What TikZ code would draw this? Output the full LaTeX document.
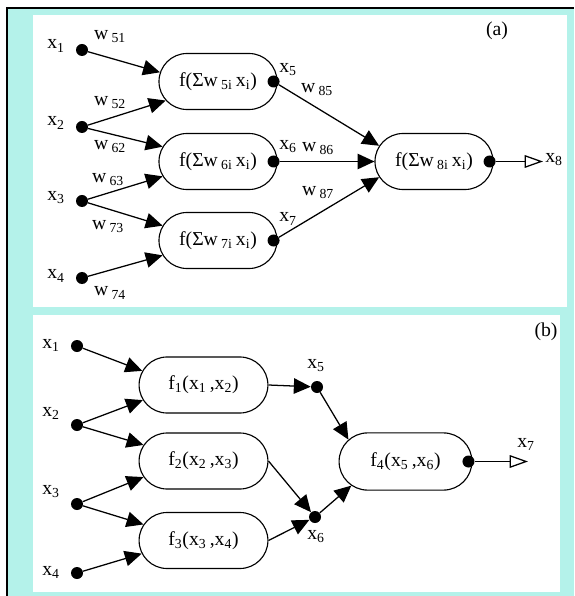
\documentclass[tikz,border=0pt]{standalone}
\usepackage{fontspec}
\setmainfont{Liberation Serif}
\usepackage{tikz}
\usetikzlibrary{arrows.meta,shapes.misc}
\definecolor{bgcyan}{RGB}{180,242,234}
\newcommand{\idx}[1]{\textsubscript{#1}}

\begin{document}
\begin{tikzpicture}[x=0.025cm, y=-0.025cm, every node/.style={font=\fontsize{14}{16}\selectfont, inner sep=0pt},
	fn/.style={draw, line width=0.8pt, rounded rectangle, minimum width=2.95cm, minimum height=1.4cm},
	dot/.style={circle, fill=black, minimum size=3mm},
	arr/.style={line width=0.9pt, -{Triangle[length=12pt, width=11pt]}},
	outarr/.style={line width=0.9pt, -{Triangle[open, length=13pt, width=9pt]}}]
	\useasboundingbox (0,0) rectangle (574,596);
	% frame and panels
	\fill[bgcyan] (7,8) rectangle (574,596);
	\fill[white] (33,15) rectangle (567,307);
	\fill[white] (33,315) rectangle (560,592);
	\draw[line width=1.4pt] (7,596) -- (7,8) -- (574,8);
	% (a) weighted sums
	\node[fn] (f5) at (218,81.5) {f(Σw\,\idx{5i}\,x\idx{i})};
	\node[fn] (f6) at (218,161.5) {f(Σw\,\idx{6i}\,x\idx{i})};
	\node[fn] (f7) at (218,240.5) {f(Σw\,\idx{7i}\,x\idx{i})};
	\node[fn] (f8) at (434,161.5) {f(Σw\,\idx{8i}\,x\idx{i})};
	\node[dot] (a1) at (82,50) {};
	\node[dot] (a2) at (82,127) {};
	\node[dot] (a3) at (82,201) {};
	\node[dot] (a4) at (82,278) {};
	\node[dot] (o5) at ([xshift=-0.1cm]f5.east) {};
	\node[dot] (o6) at ([xshift=-0.1cm]f6.east) {};
	\node[dot] (o7) at ([xshift=-0.1cm]f7.east) {};
	\node[dot] (o8) at ([xshift=-0.1cm]f8.east) {};
	\coordinate (e8) at (543,161.5);
	\foreach \s/\t/\a in {a1/f5/171, a2/f5/200, a2/f6/165, a3/f6/195, a3/f7/165, a4/f7/195} {\draw[arr] (\s) -- (\t.\a);}
	\draw[arr] (o5) -- (f8.164);
	\draw[arr] (o6) -- (f8.west);
	\draw[arr] (o7) -- (f8.196);
	\draw[outarr] (o8) -- (e8);
	\node (la1) at (56,46) {x\idx{1}};
	\node (la2) at (56,123) {x\idx{2}};
	\node (la3) at (56,198) {x\idx{3}};
	\node (la4) at (56,276) {x\idx{4}};
	\node (w51) at (110,37) {w\,\idx{51}};
	\node (w52) at (110,103) {w\,\idx{52}};
	\node (w62) at (110,147) {w\,\idx{62}};
	\node (w63) at (108,180) {w\,\idx{63}};
	\node (w73) at (108,227) {w\,\idx{73}};
	\node (w74) at (110,293) {w\,\idx{74}};
	\node (la5) at (288,70) {x\idx{5}};
	\node (la6) at (288,147) {x\idx{6}};
	\node (la7) at (288,219) {x\idx{7}};
	\node (w85) at (317,90) {w\,\idx{85}};
	\node (w86) at (318,149) {w\,\idx{86}};
	\node (w87) at (318,193) {w\,\idx{87}};
	\node (la8) at (554,160) {x\idx{8}};
	\node (tga) at (497,31) {(a)};
	% (b) composed functions
	\node[fn, minimum width=3.22cm] (g1) at (203.5,385) {f\idx{1}(x\idx{1}\,,x\idx{2})};
	\node[fn, minimum width=3.22cm] (g2) at (203.5,461) {f\idx{2}(x\idx{2}\,,x\idx{3})};
	\node[fn, minimum width=3.22cm] (g3) at (203.5,540.5) {f\idx{3}(x\idx{3}\,,x\idx{4})};
	\node[fn, minimum width=3.32cm, minimum height=1.43cm] (g4) at (405.5,461.5) {f\idx{4}(x\idx{5}\,,x\idx{6})};
	\node[dot] (b1) at (77,346) {};
	\node[dot] (b2) at (77,425) {};
	\node[dot] (b3) at (77,504) {};
	\node[dot] (b4) at (77,573) {};
	\node[dot] (c5) at (317,387) {};
	\node[dot] (c6) at (315,517) {};
	\node[dot] (d4) at ([xshift=-0.1cm]g4.east) {};
	\coordinate (e7) at (528,461.5);
	\foreach \s/\t/\a in {b1/g1/167, b2/g1/194, b2/g2/165, b3/g2/195, b3/g3/165, b4/g3/192} {\draw[arr] (\s) -- (\t.\a);}
	\draw[arr] (g1.east) -- (c5);
	\draw[arr] (g2.east) -- (c6);
	\draw[arr] (g3.east) -- (c6);
	\draw[arr] (c5) -- (g4.159);
	\draw[arr] (c6) -- (g4.204);
	\draw[outarr] (d4) -- (e7);
	\node (lb1) at (51,345) {x\idx{1}};
	\node (lb2) at (51,413) {x\idx{2}};
	\node (lb3) at (51,492) {x\idx{3}};
	\node (lb4) at (51,572) {x\idx{4}};
	\node (lb5) at (316,366) {x\idx{5}};
	\node (lb6) at (316,537) {x\idx{6}};
	\node (lb7) at (526,444) {x\idx{7}};
	\node (tgb) at (546,332) {(b)};
\end{tikzpicture}
\end{document}
